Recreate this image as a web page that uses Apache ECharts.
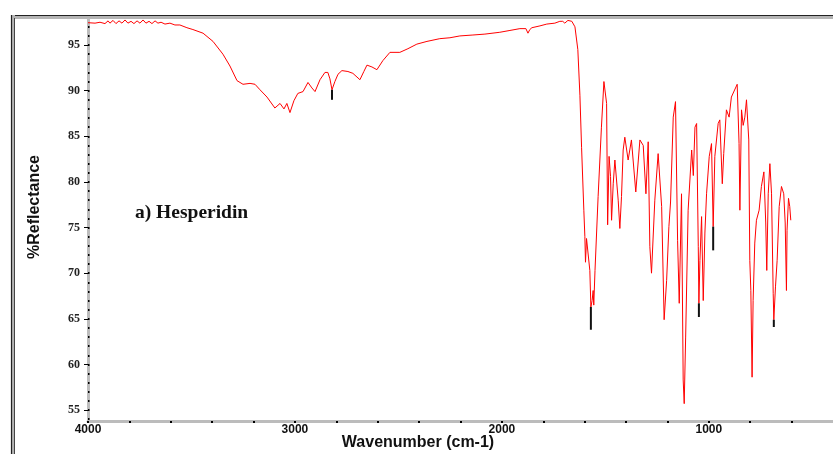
<!DOCTYPE html>
<html>
<head>
<meta charset="utf-8">
<script src="https://cdn.jsdelivr.net/npm/echarts@6/dist/echarts.min.js"></script>
<style>
  html, body { margin: 0; padding: 0; background: #fff; }
  #chart { width: 833px; height: 454px; }
</style>
</head>
<body>
<div id="chart"></div>
<script>
// FT-IR reflectance spectrum of hesperidin (wavenumber in cm-1, %R)
const wavenumbers = [
  4000, 3966, 3942, 3918, 3903, 3894, 3879, 3865, 3850, 3836, 3821, 3807, 3792, 3778, 3763,
  3749, 3734, 3720, 3705, 3691, 3676, 3662, 3647, 3628, 3604, 3580, 3556, 3522, 3493, 3444,
  3396, 3348, 3314, 3280, 3251, 3217, 3193, 3169, 3135, 3097, 3072, 3053, 3039, 3024, 3005,
  2986, 2961, 2937, 2918, 2903, 2879, 2855, 2841, 2831, 2821, 2807, 2792, 2773, 2744, 2720,
  2686, 2667, 2652, 2628, 2604, 2575, 2541, 2493, 2454, 2411, 2362, 2300, 2251, 2203, 2140,
  2082, 2010, 1961, 1913, 1884, 1874, 1865, 1855, 1816, 1783, 1744, 1720, 1706, 1696, 1681,
  1662, 1647, 1633, 1623, 1615, 1604, 1599, 1596, 1591, 1583, 1575, 1570, 1564, 1559, 1556,
  1550, 1535, 1519, 1507, 1499, 1494, 1489, 1482, 1475, 1470, 1462, 1454, 1446, 1438, 1430,
  1422, 1414, 1406, 1390, 1374, 1353, 1333, 1317, 1304, 1293, 1285, 1277, 1261, 1245, 1228,
  1216, 1204, 1193, 1185, 1172, 1161, 1151, 1143, 1132, 1124, 1119, 1112, 1100, 1083, 1075,
  1067, 1059, 1051, 1048, 1043, 1035, 1027, 1019, 1011, 998, 987, 979, 971, 955, 947,
  935, 928, 915, 902, 891, 863, 854, 850, 842, 834, 826, 818, 807, 802, 797,
  791, 786, 778, 770, 757, 746, 734, 725, 720, 713, 705, 697, 689, 686, 678,
  670, 660, 649, 638, 631, 625, 622, 615, 609, 604
];
const reflectance = [
  97.45, 97.4, 97.5, 97.35, 97.65, 97.4, 97.7, 97.35, 97.65, 97.4, 97.75, 97.4, 97.6, 97.35, 97.65,
  97.4, 97.75, 97.4, 97.6, 97.35, 97.65, 97.4, 97.5, 97.3, 97.4, 97.2, 97.2, 96.9, 96.7, 96.3,
  95.4, 94.0, 92.7, 91.1, 90.7, 90.8, 90.7, 90.1, 89.3, 88.1, 88.6, 88.0, 88.6, 87.6, 88.9,
  89.7, 89.9, 90.9, 90.3, 89.9, 91.2, 92.0, 92.0, 91.3, 90.1, 91.0, 91.8, 92.2, 92.1, 91.9,
  91.2, 92.1, 92.8, 92.6, 92.3, 93.3, 94.2, 94.2, 94.6, 95.1, 95.4, 95.7, 95.8, 96.0, 96.1,
  96.2, 96.4, 96.6, 96.8, 96.8, 96.3, 96.7, 96.9, 97.1, 97.3, 97.4, 97.6, 97.6, 97.4, 97.7,
  97.6, 97.0, 94.5, 89.5, 83.8, 76.9, 74.0, 71.2, 73.8, 73.6, 70.3, 66.3, 67.0, 68.1, 66.5,
  70.3, 78.4, 86.0, 91.0, 91.2, 88.6, 75.3, 82.8, 80.6, 75.8, 79.8, 82.4, 82.6, 78.0, 74.9,
  78.4, 83.5, 84.9, 82.4, 84.6, 78.9, 84.6, 84.0, 78.7, 84.4, 72.9, 70.0, 78.0, 83.1, 77.3,
  64.9, 69.2, 75.1, 77.8, 87.1, 88.8, 73.6, 66.7, 78.7, 58.3, 55.7, 63.0, 76.9, 83.5, 80.7,
  86.0, 86.4, 72.9, 66.7, 71.4, 76.2, 67.0, 74.4, 78.7, 82.8, 84.2, 75.1, 82.8, 86.4, 86.8,
  79.8, 83.1, 87.9, 87.1, 89.3, 90.7, 84.2, 76.9, 87.9, 86.2, 87.1, 89.0, 84.6, 71.4, 68.1,
  58.6, 67.0, 73.3, 75.8, 76.9, 79.5, 81.1, 75.5, 70.3, 78.7, 82.0, 78.7, 67.8, 64.9, 68.5,
  71.4, 77.3, 79.5, 78.7, 75.5, 68.1, 74.7, 78.2, 77.3, 75.8
];

// Picked peaks: short black markers hanging below the band minima
const peakWn     = [2821, 1570, 1048, 979, 686];
const peakTop    = [90.1, 66.3, 66.7, 75.1, 64.9];
const peakBottom = [89.0, 63.8, 65.2, 72.5, 64.1];

const yLabelValues = [55, 60, 65, 70, 75, 80, 85, 90, 95];
const yMinorValues = [];
for (let v = 54; v <= 97; v++) yMinorValues.push(v);
const xLabelValues = [1000, 2000, 3000, 4000];
const xTickValues = [];
for (let v = 600; v <= 4000; v += 200) xTickValues.push(v);

const spectrum = wavenumbers.map((w, i) => [w, reflectance[i]]);
const peaks = peakWn.map((w, i) => [w, peakTop[i], peakBottom[i]]);

const chart = echarts.init(document.getElementById('chart'), null, { renderer: 'canvas' });

const axisGrey = '#bcbcbc';

chart.setOption({
  animation: false,
  backgroundColor: '#fff',
  grid: { left: 88, right: 0, top: 19.5, bottom: 33, containLabel: false },
  xAxis: {
    type: 'value',
    inverse: true,
    min: 400,
    max: 4000,
    splitLine: { show: false },
    axisLine: { show: true, onZero: false, lineStyle: { color: axisGrey, width: 3 } },
    axisTick: { show: true, customValues: xTickValues, length: 2, lineStyle: { color: '#000', width: 2 } },
    axisLabel: {
      customValues: xLabelValues,
      formatter: function (v) { return String(v); },
      margin: 3,
      fontFamily: 'Liberation Sans',
      fontWeight: 'bold',
      fontSize: 12,
      color: '#111'
    }
  },
  yAxis: [
    {
      type: 'value',
      min: 53.8,
      max: 97.8,
      position: 'left',
      splitLine: { show: false },
      axisLine: { show: true, onZero: false, lineStyle: { color: axisGrey, width: 3 } },
      axisTick: { show: true, customValues: yLabelValues, length: 4, lineStyle: { color: '#000', width: 1 } },
      axisLabel: {
        customValues: yLabelValues,
        formatter: function (v) { return String(v); },
        margin: 8,
        fontFamily: 'Liberation Serif',
        fontWeight: 'bold',
        fontSize: 12,
        color: '#222'
      }
    },
    {
      type: 'value',
      min: 53.8,
      max: 97.8,
      position: 'left',
      offset: 0,
      splitLine: { show: false },
      axisLine: { show: false },
      axisTick: { show: true, inside: true, customValues: yMinorValues, length: 1.5, lineStyle: { color: '#000', width: 2 } },
      axisLabel: { show: false }
    }
  ],
  series: [
    {
      name: 'Hesperidin',
      type: 'line',
      data: spectrum,
      showSymbol: false,
      symbol: 'none',
      lineStyle: { color: '#ff0000', width: 1 },
      clip: true,
      z: 3
    },
    {
      name: 'Peaks',
      type: 'custom',
      data: peaks,
      encode: { x: 0, y: [1, 2] },
      renderItem: function (params, api) {
        const a = api.coord([api.value(0), api.value(1)]);
        const b = api.coord([api.value(0), api.value(2)]);
        return {
          type: 'line',
          shape: { x1: a[0], y1: a[1], x2: b[0], y2: b[1] },
          style: { stroke: '#111', lineWidth: 2 }
        };
      },
      z: 4
    }
  ],
  graphic: [
    // bevelled outer frame
    { type: 'rect', shape: { x: 11, y: 15, width: 830, height: 4 }, style: { fill: '#b5b5b5' }, silent: true },
    { type: 'line', shape: { x1: 11, y1: 15.5, x2: 833, y2: 15.5 }, style: { stroke: '#222', lineWidth: 1.2 }, silent: true },
    { type: 'rect', shape: { x: 11, y: 15, width: 4, height: 440 }, style: { fill: '#b5b5b5' }, silent: true },
    { type: 'line', shape: { x1: 11.5, y1: 15, x2: 11.5, y2: 454 }, style: { stroke: '#222', lineWidth: 1.2 }, silent: true },
    { type: 'line', shape: { x1: 14.5, y1: 18, x2: 14.5, y2: 454 }, style: { stroke: '#444', lineWidth: 1 }, silent: true },
    {
      type: 'text',
      left: 135,
      top: 203,
      style: {
        text: 'a) Hesperidin',
        font: 'bold 19.5px "Liberation Serif"',
        fill: '#111'
      }
    },
    {
      type: 'text',
      x: 418,
      y: 443,
      style: {
        text: 'Wavenumber (cm-1)',
        font: 'bold 16px "Liberation Sans"',
        fill: '#111',
        align: 'center',
        verticalAlign: 'middle'
      }
    },
    {
      type: 'text',
      x: 35,
      y: 207,
      rotation: Math.PI / 2,
      style: {
        text: '%Reflectance',
        font: 'bold 16px "Liberation Sans"',
        fill: '#111',
        align: 'center',
        verticalAlign: 'middle'
      }
    }
  ]
});
</script>
</body>
</html>
